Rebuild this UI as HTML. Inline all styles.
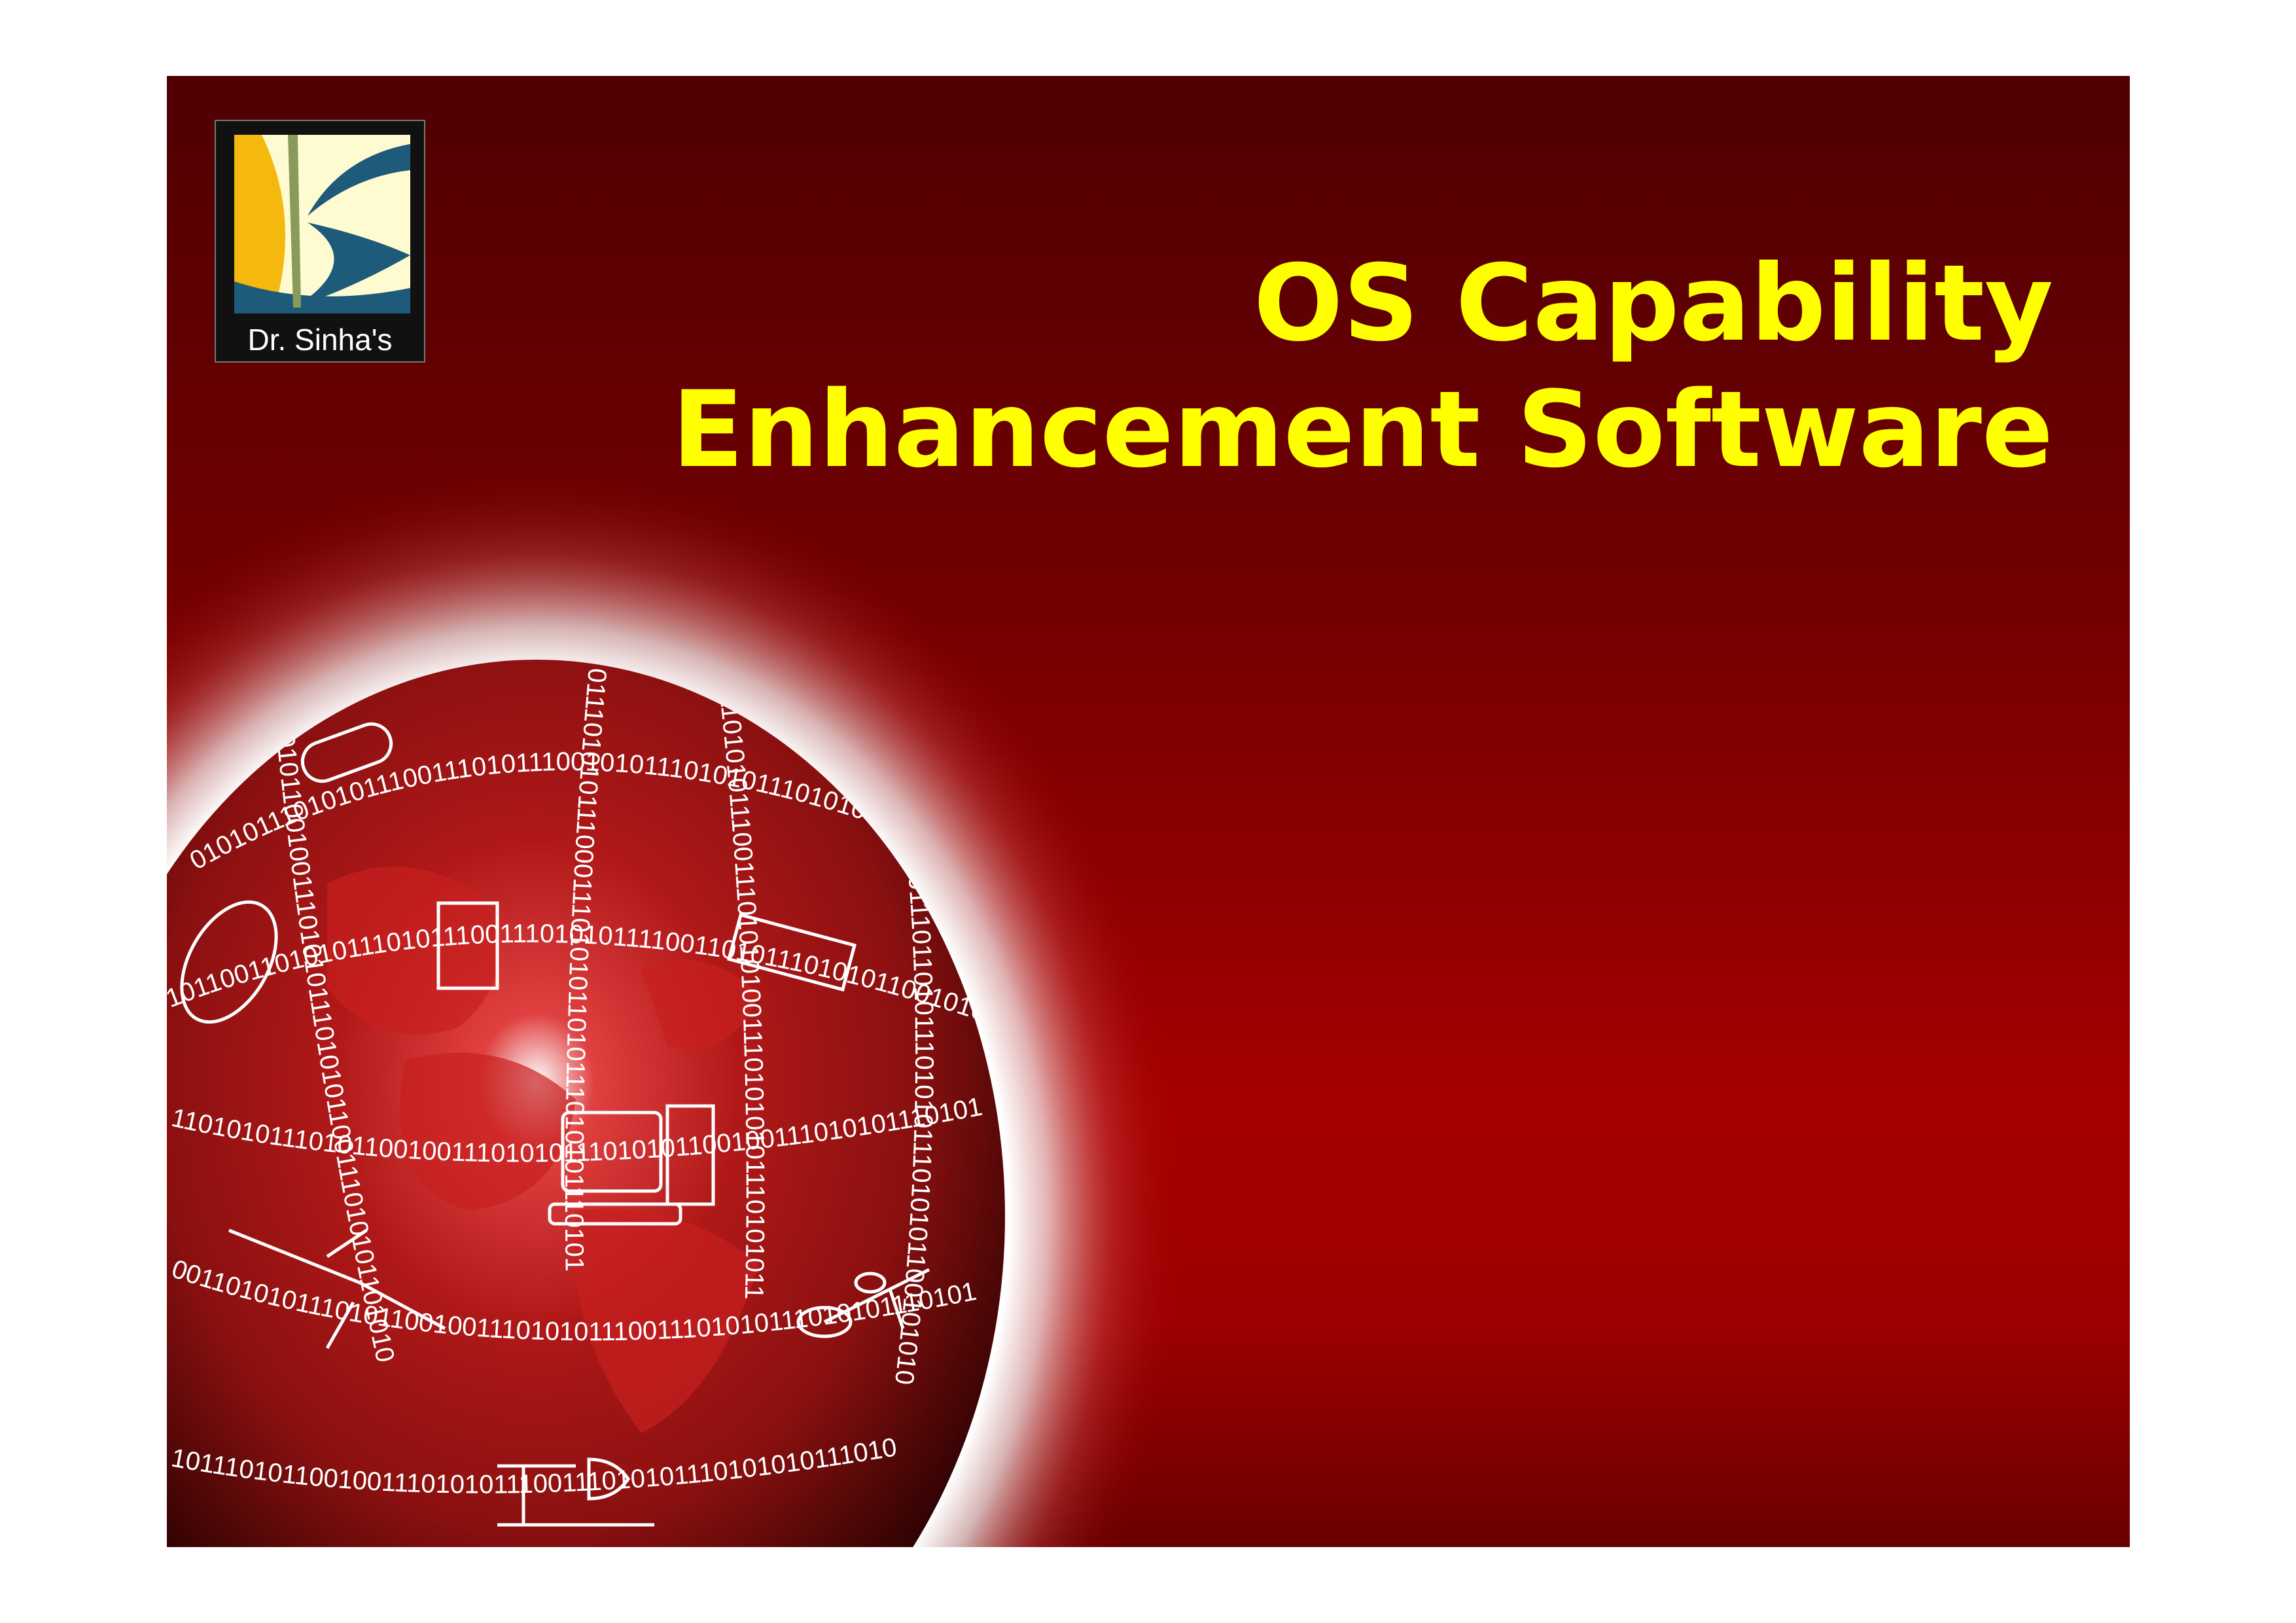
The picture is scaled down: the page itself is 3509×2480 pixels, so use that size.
<!DOCTYPE html>
<html><head><meta charset="utf-8"><style>
html,body{margin:0;padding:0;background:#fff;width:3509px;height:2480px;overflow:hidden}
svg{display:block}
</style></head><body>
<svg width="3509" height="2480" viewBox="0 0 3509 2480" xmlns="http://www.w3.org/2000/svg">
<defs>
<linearGradient id="bg" x1="0" y1="0" x2="0" y2="1">
<stop offset="0" stop-color="#4f0003"/>
<stop offset="0.35" stop-color="#720000"/>
<stop offset="0.7" stop-color="#a50000"/>
<stop offset="0.85" stop-color="#9c0000"/>
<stop offset="1" stop-color="#6a0000"/>
</linearGradient>
<radialGradient id="glow" cx="0.5" cy="0.5" r="0.5">
<stop offset="0.73" stop-color="#ffffff" stop-opacity="1"/>
<stop offset="0.79" stop-color="#ffffff" stop-opacity="0.7"/>
<stop offset="0.89" stop-color="#e06060" stop-opacity="0.3"/>
<stop offset="1" stop-color="#a00000" stop-opacity="0"/>
</radialGradient>
<radialGradient id="sphere" cx="0.5" cy="0.38" r="0.62">
<stop offset="0" stop-color="#ffffff"/>
<stop offset="0.1" stop-color="#e04040"/>
<stop offset="0.35" stop-color="#b01818"/>
<stop offset="0.65" stop-color="#8a1010"/>
<stop offset="0.85" stop-color="#4a0606"/>
<stop offset="1" stop-color="#1a0000"/>
</radialGradient>
<clipPath id="slide"><rect x="255" y="116" width="3000" height="2248"/></clipPath>
<clipPath id="ball"><ellipse cx="820" cy="1858" rx="716" ry="850"/></clipPath>
<path id="a1" d="M300 1330 Q800 1040 1450 1300"/>
<path id="a2" d="M260 1540 Q800 1330 1500 1560"/>
<path id="a3" d="M260 1720 Q800 1840 1520 1700"/>
<path id="a4" d="M260 1950 Q800 2130 1520 1980"/>
<path id="a5" d="M260 2240 Q800 2340 1500 2200"/>
<path id="v1" d="M420 1100 Q480 1700 640 2360"/>
<path id="v2" d="M900 1020 Q840 1700 880 2370"/>
<path id="v3" d="M1100 1060 Q1170 1700 1120 2370"/>
<path id="v4" d="M1380 1250 Q1430 1700 1350 2250"/>
</defs>
<rect x="255" y="116" width="3000" height="2248" fill="url(#bg)"/>
<g clip-path="url(#slide)">
<ellipse cx="820" cy="1858" rx="990" ry="1140" fill="url(#glow)"/>
<ellipse cx="820" cy="1858" rx="716" ry="850" fill="url(#sphere)"/>
<g clip-path="url(#ball)" fill="#ffffff" font-family="'Liberation Sans',sans-serif" font-size="40">
<path d="M500 1350 q120 -60 240 20 q60 120 -40 200 q-120 40 -200 -60z M620 1620 q150 -40 260 60 q-20 150 -160 170 q-140 -30 -100 -230z M980 1480 q100 -40 180 40 q-40 100 -140 80z M880 1850 q150 -20 280 80 q-60 200 -180 260 q-120 -160 -100 -340z" fill="#c82020" opacity="0.7"/>
<text><textPath href="#a1">0101011101010111001110101110010101110101011101010011101011101</textPath></text>
<text><textPath href="#a2">1011001101010111010111001110101011110011010111010101100101011</textPath></text>
<text><textPath href="#a3">1101010111010110010011101010111010101100100111010101110101</textPath></text>
<text><textPath href="#a4">0011010101110101100100111010101110011101010111010101110101</textPath></text>
<text><textPath href="#a5">1011101011001001110101011100111010101110101010111010</textPath></text>
<text><textPath href="#v1">1010110010011101010111010101100111010101101010</textPath></text>
<text><textPath href="#v2">0111010101110001110101011010111010101110101</textPath></text>
<text><textPath href="#v3">1101010111001110101010011101010101110101011</textPath></text>
<text><textPath href="#v4">0101011101101011101010111010101100101010</textPath></text>
<g fill="none" stroke="#fff" stroke-width="5">
<rect x="860" y="1700" width="150" height="120" rx="10"/>
<rect x="1020" y="1690" width="70" height="150"/>
<rect x="840" y="1840" width="200" height="30" rx="8"/>
<rect x="1120" y="1420" width="180" height="70" transform="rotate(15 1210 1455)"/>
<rect x="670" y="1380" width="90" height="130"/>
<rect x="460" y="1120" width="140" height="60" rx="30" transform="rotate(-20 530 1150)"/>
<ellipse cx="350" cy="1470" rx="60" ry="100" transform="rotate(30 350 1470)"/>
<path d="M350 1880 L550 1960 L680 2030 M500 1920 L560 1880 M540 1990 L500 2060"/>
<ellipse cx="1330" cy="1960" rx="22" ry="14"/>
<ellipse cx="1260" cy="2020" rx="40" ry="22"/>
<path d="M1260 2020 L1360 1970 L1420 1940 M1360 1970 L1380 2030"/>
<path d="M760 2240 L880 2240 M760 2330 L1000 2330 M800 2240 L800 2330 M900 2230 q40 0 60 30 q-20 30 -60 30z"/>
</g>
</g>
</g>
<!-- logo -->
<rect x="329" y="184" width="320" height="369" fill="#111" stroke="#777" stroke-width="2"/>
<rect x="358" y="206" width="269" height="273" fill="#fffbd0"/>
<path d="M358 206 L400 206 Q460 330 420 470 L358 479 Z" fill="#f5b80e"/>
<path d="M627 206 L627 440 L470 479 L627 479 Z" fill="#e6d58a"/>
<path d="M627 220 Q520 240 470 330 Q540 270 627 260 Z" fill="#1e5a7a"/>
<path d="M470 340 Q560 360 627 390 Q540 440 450 470 Q560 400 470 340Z" fill="#1e5a7a"/>
<path d="M358 430 Q480 470 627 440 L627 479 L358 479Z" fill="#1e5a7a"/>
<path d="M440 206 L455 206 L460 470 L448 470Z" fill="#8a9a5a"/>
<text x="489" y="535" text-anchor="middle" font-family="'Liberation Sans',sans-serif" font-size="46" fill="#fff">Dr. Sinha's</text>
<!-- title -->
<g font-family="'DejaVu Sans','Liberation Sans',sans-serif" font-weight="bold" fill="#ffff00" text-anchor="end">
<text x="3138" y="519" font-size="161">OS Capability</text>
<text x="3138" y="712" font-size="161">Enhancement Software</text>
</g>
</svg>
</body></html>
